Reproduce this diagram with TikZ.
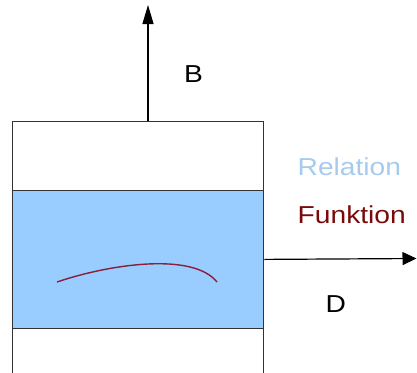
\documentclass[tikz,border=0pt]{standalone}
\usepackage{fontspec}
\newfontfamily\lab[FakeStretch=1.15]{Liberation Sans}
\usetikzlibrary{arrows.meta}
\definecolor{bandblue}{HTML}{99CCFF}
\definecolor{relblue}{HTML}{A6CBEF}
\definecolor{funred}{HTML}{7A0A0A}
\definecolor{curvered}{HTML}{8A1E3C}
\definecolor{edge}{HTML}{333333}
\tikzset{
  box/.style={draw=edge, line width=1.3pt, inner sep=0pt, anchor=north west},
  arr/.style 2 args={line width=1.2pt, -{Triangle[length=#1, width=#2]}},
  lbl/.style={font=\lab\fontsize{24.5}{28}\selectfont, inner sep=0pt, anchor=base west},
}
\begin{document}
\begin{tikzpicture}[x=1pt,y=-1pt]
\useasboundingbox (0,0) rectangle (417,372);
\clip (0,0) rectangle (417,372);
\fill[white] (0,0) rectangle (417,372);
\node[box, minimum width=251.5pt, minimum height=270pt] (outer) at (11.5,120.5) {};
\node[box, fill=bandblue, minimum width=251.5pt, minimum height=138.5pt] (band) at (11.5,189.5) {};
\coordinate (upfoot) at (148,120.5);
\coordinate (uptip) at (148,5);
\coordinate (righttip) at (416.5,258.5);
\draw[arr={19pt}{11pt}] (upfoot) -- (uptip);
\draw[arr={14pt}{13pt}] (band.east) -- (righttip);
\draw[curvered, line width=1.4pt] (57,282) .. controls (110,264) and (193,252) .. (217,282);
\node[lbl] (B) at (184,82) {B};
\node[lbl, text=relblue] (rel) at (297.5,175) {Relation};
\node[lbl, text=funred] (fun) at (297.5,223) {Funktion};
\node[lbl] (D) at (325.5,312) {D};
\end{tikzpicture}
\end{document}
